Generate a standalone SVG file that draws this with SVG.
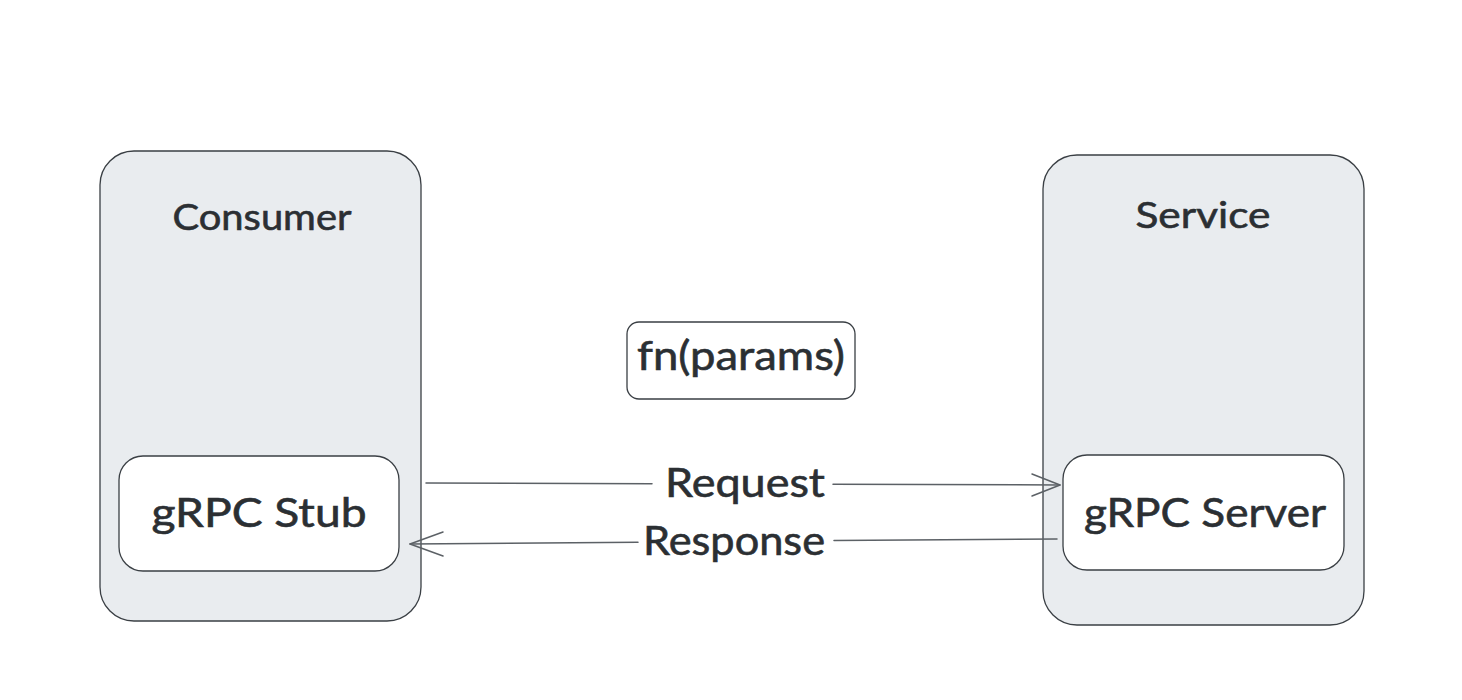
<svg xmlns="http://www.w3.org/2000/svg" width="1462" height="700" viewBox="0 0 1462 700">
  <style>
    .outer { fill: #e9ecef; stroke: #3a3f44; stroke-width: 1.3; }
    .inner { fill: #ffffff; stroke: #3a3f44; stroke-width: 1.3; }
    .label { font-family: "Comic Sans MS", "Lato", "Noto Sans", sans-serif; fill: #2b2f33; stroke: #2b2f33; stroke-width: 0.6; text-anchor: middle; }
    .wire { fill: none; stroke: #5c6166; stroke-width: 1.5; stroke-linecap: round; stroke-linejoin: round; }
    .wire-label { font-family: "Comic Sans MS", "Lato", "Noto Sans", sans-serif; fill: #2b2f33; stroke: #2b2f33; stroke-width: 0.6; text-anchor: middle; }
  </style>
  <rect width="1462" height="700" fill="#ffffff"/>

  <g id="consumer">
    <rect class="outer" x="100" y="151" width="321" height="470" rx="34"/>
    <text class="label" x="262" y="230" font-size="36" textLength="179" lengthAdjust="spacingAndGlyphs">Consumer</text>
  </g>

  <g id="grpc-stub">
    <rect class="inner" x="119" y="456" width="280" height="115" rx="24"/>
    <text class="label" x="259" y="527" font-size="40" textLength="215" lengthAdjust="spacingAndGlyphs">gRPC Stub</text>
  </g>

  <g id="service">
    <rect class="outer" x="1043" y="155" width="321" height="470" rx="34"/>
    <text class="label" x="1203" y="228" font-size="36" textLength="135" lengthAdjust="spacingAndGlyphs">Service</text>
  </g>

  <g id="grpc-server">
    <rect class="inner" x="1063" y="455" width="281" height="115" rx="24"/>
    <text class="label" x="1205" y="527" font-size="40" textLength="242" lengthAdjust="spacingAndGlyphs">gRPC Server</text>
  </g>

  <g id="fn-params">
    <rect class="inner" x="627" y="322" width="228" height="77" rx="12"/>
    <text class="label" x="741" y="370" font-size="40" textLength="208" lengthAdjust="spacingAndGlyphs">fn(params)</text>
  </g>

  <g id="connectors">
    <!-- Request: stub to server -->
    <path class="wire" d="M426 483 L652 483.7"/>
    <path class="wire" d="M833 484.3 L1060 485"/>
    <path class="wire" d="M1032 474 L1060 485 L1032 496"/>
    <text class="wire-label" x="745" y="497" font-size="40" textLength="160" lengthAdjust="spacingAndGlyphs">Request</text>

    <!-- Response: server to stub -->
    <path class="wire" d="M1057 539 L834 540.6"/>
    <path class="wire" d="M638 542.2 L410 544"/>
    <path class="wire" d="M443 532 L410 544 L443 556"/>
    <text class="wire-label" x="734" y="555" font-size="40" textLength="182" lengthAdjust="spacingAndGlyphs">Response</text>
  </g>
</svg>
